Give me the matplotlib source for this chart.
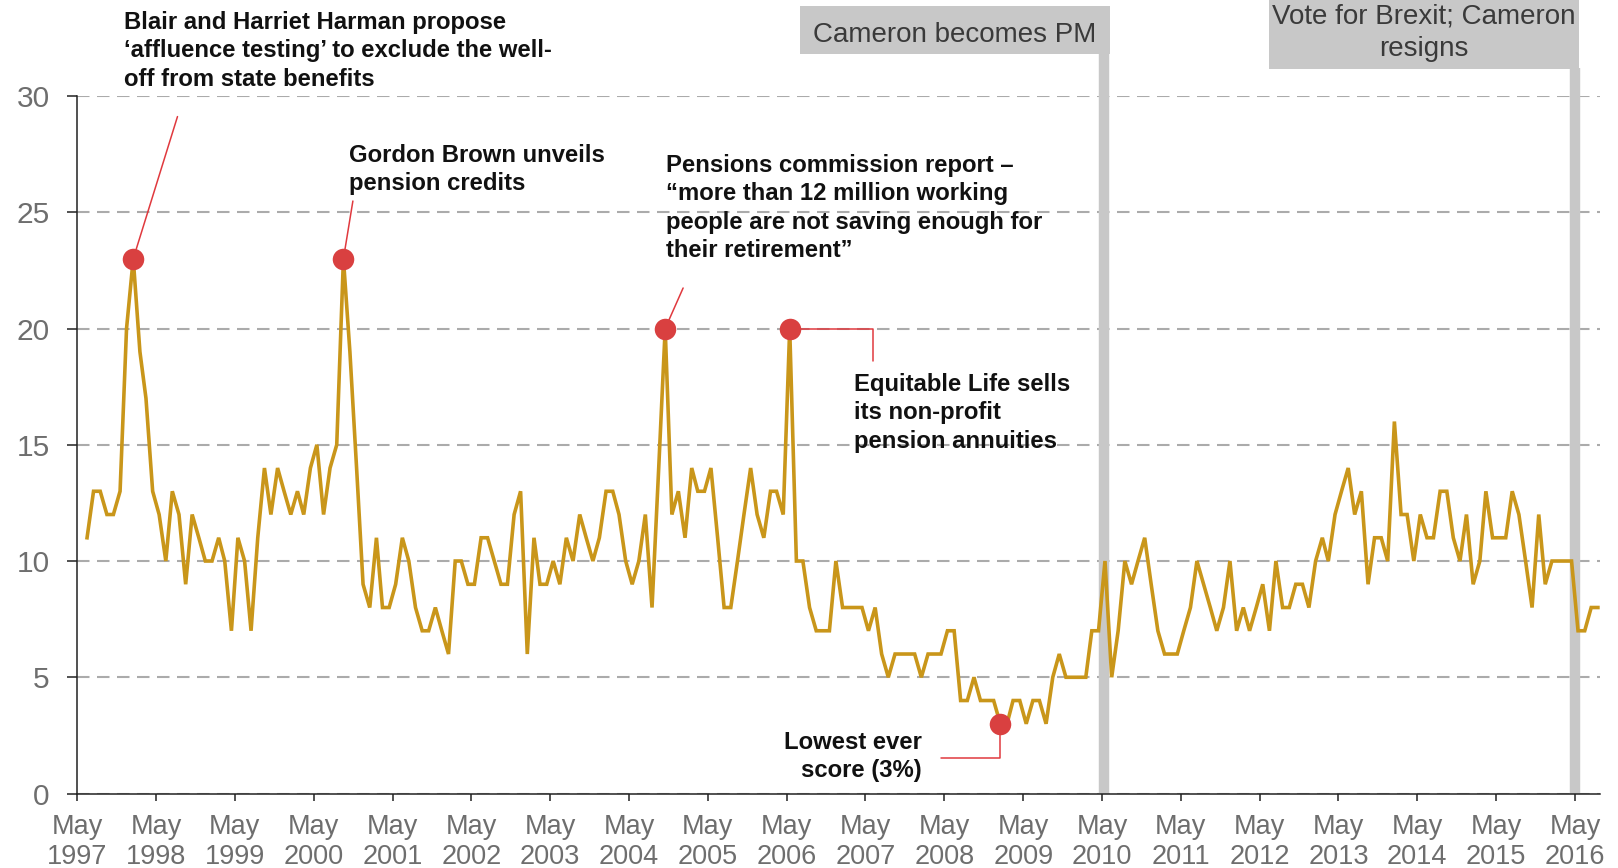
import matplotlib
matplotlib.use("Agg")  # headless
import matplotlib.pyplot as plt
from matplotlib.patches import Rectangle
import pandas as pd

# ── Style ─────────────────────────────────────────────────────────────────────
plt.rcParams.update({
    "font.family": ["Liberation Sans", "DejaVu Sans"],
    "axes.edgecolor": "#222222",
    "axes.linewidth": 1.1,
})

GOLD = "#C9961A"
RED = "#D94040"
BAND = "#C8C8C8"
TICK_GREY = "#6E6E6E"

# ── Data (monthly score, %, from June 1997) ──────────────────────────────────
first_month = "1997-06-01"
scores = [
    11, 13, 13, 12, 12, 13, 20, 23, 19, 17, 13, 12, 10, 13, 12, 9, 12, 11, 10, 10,
    11, 10, 7, 11, 10, 7, 11, 14, 12, 14, 13, 12, 13, 12, 14, 15, 12, 14, 15, 23,
    19, 14, 9, 8, 11, 8, 8, 9, 11, 10, 8, 7, 7, 8, 7, 6, 10, 10, 9, 9,
    11, 11, 10, 9, 9, 12, 13, 6, 11, 9, 9, 10, 9, 11, 10, 12, 11, 10, 11, 13,
    13, 12, 10, 9, 10, 12, 8, 14, 20, 12, 13, 11, 14, 13, 13, 14, 11, 8, 8, 10,
    12, 14, 12, 11, 13, 13, 12, 20, 10, 10, 8, 7, 7, 7, 10, 8, 8, 8, 8, 7,
    8, 6, 5, 6, 6, 6, 6, 5, 6, 6, 6, 7, 7, 4, 4, 5, 4, 4, 4, 3,
    3, 4, 4, 3, 4, 4, 3, 5, 6, 5, 5, 5, 5, 7, 7, 10, 5, 7, 10, 9,
    10, 11, 9, 7, 6, 6, 6, 7, 8, 10, 9, 8, 7, 8, 10, 7, 8, 7, 8, 9,
    7, 10, 8, 8, 9, 9, 8, 10, 11, 10, 12, 13, 14, 12, 13, 9, 11, 11, 10, 16,
    12, 12, 10, 12, 11, 11, 13, 13, 11, 10, 12, 9, 10, 13, 11, 11, 11, 13, 12, 10,
    8, 12, 9, 10, 10, 10, 10, 7, 7, 8, 8,
]

tick_years = list(range(1997, 2017))
tick_labels = [f"May\n{y}" for y in tick_years]
y_ticks = [0, 5, 10, 15, 20, 25, 30]

highlight_months = ["1998-01", "2000-09", "2004-10", "2006-05", "2009-01"]

event_labels = ["Cameron becomes PM", "Vote for Brexit; Cameron\nresigns"]
event_dates = ["2010-05-11", "2016-05-03"]

dates = pd.date_range(first_month, periods=len(scores), freq="MS") + pd.Timedelta(days=14)
series = pd.Series(scores, index=dates)
tick_dates = pd.to_datetime([f"{y}-05-01" for y in tick_years])
hl_dates = pd.to_datetime([m + "-15" for m in highlight_months])
hl_values = series.loc[hl_dates]

# ── Figure ───────────────────────────────────────────────────────────────────
fig = plt.figure(figsize=(16.18, 8.68), dpi=100)
ax = fig.add_axes([0.0478, 0.0858, 0.9411, 0.8036])

ax.set_ylim(0, 30)
ax.set_xlim(pd.Timestamp("1997-05-01"), pd.Timestamp("2016-08-25"))

ax.yaxis.grid(True, color="#ABABAB", linewidth=1.5, linestyle=(0, (6, 3.6)), zorder=0)
ax.set_axisbelow(True)
for s in ("top", "right"):
    ax.spines[s].set_visible(False)

# event bands
for d in event_dates:
    ax.axvline(pd.Timestamp(d), 0, 1.06 if "2010" in d else 1.04, color=BAND,
               linewidth=7.5, solid_capstyle="butt", clip_on=False, zorder=1)

ax.plot(series.index, series.values, color=GOLD, linewidth=2.6,
        solid_joinstyle="miter", zorder=3)
ax.plot(hl_dates, hl_values.values, "o", color=RED, markersize=15.5,
        markeredgewidth=0, zorder=5)

ax.set_yticks(y_ticks)
ax.tick_params(axis="y", direction="out", length=7, width=1.1, pad=13,
               labelsize=21.5, labelcolor=TICK_GREY, color="#222222")
ax.set_xticks(tick_dates, tick_labels, linespacing=1.18)
ax.tick_params(axis="x", direction="out", length=5, width=1.1, pad=10,
               labelsize=19.5, labelcolor=TICK_GREY, color="#222222")

# ── Annotations ──────────────────────────────────────────────────────────────
ann_style = dict(fontsize=17.2, fontweight="bold", color="#111111", linespacing=1.3)
line_style = dict(arrowstyle="-", color="#E0393E", lw=1.1, shrinkA=0, shrinkB=0)

notes = [
    ("Blair and Harriet Harman propose\n\u2018affluence testing\u2019 to exclude the well-\noff from state benefits",
     0, (0.0766, 0.9417), "left", (0.1097, 0.8657), "arc3"),
    ("Gordon Brown unveils\npension credits",
     1, (0.2156, 0.8047), "left", (0.2181, 0.7684), "arc3"),
    ("Pensions commission report \u2013\n\u201cmore than 12 million working\npeople are not saving enough for\ntheir retirement\u201d",
     2, (0.4114, 0.7604), "left", (0.4222, 0.6682), "arc3"),
    ("Equitable Life sells\nits non-profit\npension annuities",
     3, (0.5281, 0.5242), "left", (0.5396, 0.5840), "angle,angleA=90,angleB=0,rad=0"),
    ("Lowest ever\nscore (3%)",
     4, (0.5695, 0.1285), "right", (0.5816, 0.1262), "angle,angleA=0,angleB=90,rad=0"),
]
for text, i, txy, ha, lend, cstyle in notes:
    fig.text(txy[0], txy[1], text, ha=ha, va="center", multialignment=ha, **ann_style)
    ax.annotate("", xy=(hl_dates[i], hl_values.iloc[i]), xycoords="data",
                xytext=lend, textcoords="figure fraction",
                arrowprops=dict(connectionstyle=cstyle, **line_style), zorder=4)

# event boxes (figure fraction)
boxes = [(0.4944, 0.9381, 0.1916, 0.0548, 0.9600),
         (0.7843, 0.9205, 0.1916, 0.0795, 0.9620)]
for label, (x0, y0, w, h, ty) in zip(event_labels, boxes):
    fig.add_artist(Rectangle((x0, y0), w, h, transform=fig.transFigure,
                             facecolor=BAND, edgecolor="none", zorder=2))
    fig.text(x0 + w / 2, ty, label, ha="center", va="center", fontsize=20,
             color="#3A3A3A", linespacing=1.3, zorder=3)

fig.savefig("out.png", dpi=100)
